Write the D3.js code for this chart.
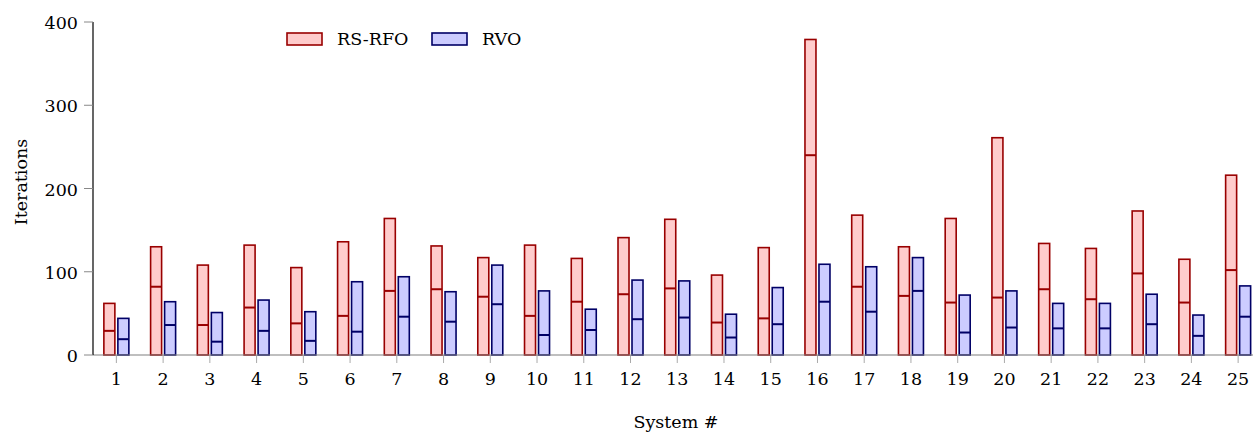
<!DOCTYPE html>
<html>
<head>
<meta charset="utf-8">
<script src="https://cdn.jsdelivr.net/npm/d3@7"></script>
<style>
  html, body { margin: 0; padding: 0; background: #fff; }
  svg { display: block; }
</style>
</head>
<body>
<svg id="chart" width="1253" height="434" font-family="'DejaVu Serif', 'Liberation Serif', serif"></svg>
<script>
const systems = d3.range(1, 26);
const rsrfoMax = [62, 130, 108, 132, 105, 136, 164, 131, 117, 132, 116, 141, 163, 96, 129, 379, 168, 130, 164, 261, 134, 128, 173, 115, 216];
const rsrfoMid = [29, 82, 36, 57, 38, 47, 77, 79, 70, 47, 64, 73, 80, 39, 44, 240, 82, 71, 63, 69, 79, 67, 98, 63, 102];
const rvoMax = [44, 64, 51, 66, 52, 88, 94, 76, 108, 77, 55, 90, 89, 49, 81, 109, 106, 117, 72, 77, 62, 62, 73, 48, 83];
const rvoMid = [19, 36, 16, 29, 17, 28, 46, 40, 61, 24, 30, 43, 45, 21, 37, 64, 52, 77, 27, 33, 32, 32, 37, 23, 46];
const yTicks = [0, 100, 200, 300, 400];
const seriesNames = ["RS-RFO", "RVO"];

const series = [
  { name: seriesNames[0], max: rsrfoMax, mid: rsrfoMid, fill: "#ffcccc", stroke: "#990000", offset: -7 },
  { name: seriesNames[1], max: rvoMax, mid: rvoMid, fill: "#ccccff", stroke: "#000066", offset: 7 }
];

const svg = d3.select("#chart");
const x0 = 93, y0 = 355, yTop = 22;
const step = 46.74;
const x = d3.scaleLinear().domain([0.5, 25.5]).range([x0, x0 + 25 * step]);
const y = d3.scaleLinear().domain([0, 400]).range([y0, yTop]);
const barW = 11;
const fs = 17.5;

// x ticks
const xg = svg.append("g");
xg.selectAll("line").data(systems).join("line")
  .attr("x1", d => x(d)).attr("x2", d => x(d))
  .attr("y1", y0).attr("y2", y0 + 8)
  .attr("stroke", "#aaaaaa").attr("stroke-width", 1);
xg.selectAll("text").data(systems).join("text")
  .attr("x", d => x(d)).attr("y", y0 + 29.5)
  .attr("text-anchor", "middle")
  .attr("font-size", fs)
  .text(d => d);

// bars
series.forEach(s => {
  const g = svg.append("g");
  g.selectAll("rect").data(systems).join("rect")
    .attr("x", (d, i) => x(d) + s.offset - barW / 2)
    .attr("y", (d, i) => y(s.max[i]))
    .attr("width", barW)
    .attr("height", (d, i) => y(0) - y(s.max[i]))
    .attr("fill", s.fill)
    .attr("stroke", s.stroke)
    .attr("stroke-width", 1.6);
  g.selectAll("line").data(systems).join("line")
    .attr("x1", (d, i) => x(d) + s.offset - barW / 2)
    .attr("x2", (d, i) => x(d) + s.offset + barW / 2)
    .attr("y1", (d, i) => y(s.mid[i]))
    .attr("y2", (d, i) => y(s.mid[i]))
    .attr("stroke", s.stroke)
    .attr("stroke-width", 2);
});

// x axis baseline
svg.append("line")
  .attr("x1", x0).attr("x2", 1253)
  .attr("y1", y0).attr("y2", y0)
  .attr("stroke", "#808080").attr("stroke-width", 1.2);

// y axis
svg.append("line")
  .attr("x1", x0).attr("x2", x0)
  .attr("y1", yTop).attr("y2", y0)
  .attr("stroke", "#000").attr("stroke-width", 1.2);
const yg = svg.append("g");
yg.selectAll("line").data(yTicks).join("line")
  .attr("x1", x0 - 9).attr("x2", x0)
  .attr("y1", d => y(d)).attr("y2", d => y(d))
  .attr("stroke", "#888888").attr("stroke-width", 1);
yg.selectAll("text").data(yTicks).join("text")
  .attr("x", x0 - 15).attr("y", d => y(d) + 7)
  .attr("text-anchor", "end")
  .attr("font-size", fs)
  .text(d => d);

// axis titles
svg.append("text")
  .attr("transform", `translate(27, 182) rotate(-90)`)
  .attr("text-anchor", "middle")
  .attr("font-size", fs)
  .text("Iterations");
svg.append("text")
  .attr("x", 676).attr("y", 428)
  .attr("text-anchor", "middle")
  .attr("font-size", fs)
  .text("System #");

// legend
const legendX = [287, 432];
const lg = svg.append("g");
series.forEach((s, i) => {
  lg.append("rect")
    .attr("x", legendX[i]).attr("y", 33)
    .attr("width", 35).attr("height", 12)
    .attr("fill", s.fill).attr("stroke", s.stroke).attr("stroke-width", 1.6);
  lg.append("text")
    .attr("x", legendX[i] + 50).attr("y", 45)
    .attr("font-size", fs)
    .text(s.name);
});
</script>
</body>
</html>
